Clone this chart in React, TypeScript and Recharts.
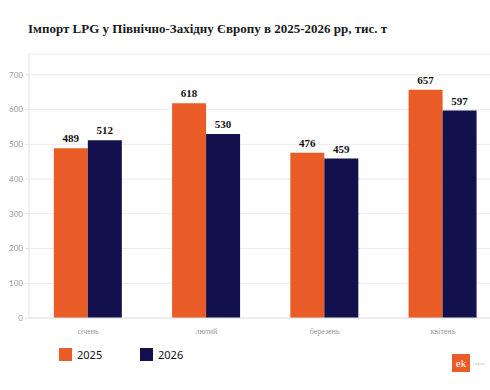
import { Bar, BarChart, CartesianGrid, LabelList, XAxis, YAxis } from 'recharts'

const months = ['січень', 'лютий', 'березень', 'квітень']
const imports2025 = [489, 618, 476, 657]
const imports2026 = [512, 530, 459, 597]
const yTicks = [0, 100, 200, 300, 400, 500, 600, 700]

const ORANGE = '#EA5C27'
const NAVY = '#13104E'

const data = months.map((m, i) => ({ month: m, y2025: imports2025[i], y2026: imports2026[i] }))

const valueLabelStyle = {
  fill: '#111',
  fontSize: 11,
  fontWeight: 700,
  fontFamily: '"Liberation Serif", serif',
}

export default function App() {
  return (
    <div
      style={{
        position: 'absolute',
        left: 0,
        top: 0,
        width: 490,
        height: 390,
        overflow: 'hidden',
        background: '#fff',
      }}
    >
      <div
        style={{
          position: 'absolute',
          left: 28,
          top: 21,
          fontFamily: '"Liberation Serif", serif',
          fontWeight: 700,
          fontSize: 13,
          color: '#1a1a1a',
          whiteSpace: 'nowrap',
        }}
      >
        Імпорт LPG у Північно-Західну Європу в 2025-2026 рр, тис. т
      </div>

      <div style={{ position: 'absolute', left: 0, top: 0 }}>
        <BarChart
          width={502}
          height={340}
          data={data}
          margin={{ top: 54, right: 0, bottom: 0, left: 0 }}
          barCategoryGap="21%"
          barGap={0}
        >
          <CartesianGrid vertical={false} stroke="#ececec" />
          <XAxis
            dataKey="month"
            tick={{ fill: '#999', fontSize: 8, fontFamily: '"Liberation Serif", serif' }}
            tickLine={false}
            axisLine={{ stroke: '#e3e3e3' }}
            height={22}
            tickMargin={4}
          />
          <YAxis
            domain={[0, 760]}
            ticks={yTicks}
            width={29}
            tick={{ fill: '#999', fontSize: 8, fontFamily: 'Lato, sans-serif' }}
            tickLine={{ stroke: '#e3e3e3' }}
            tickSize={4}
            axisLine={{ stroke: '#e3e3e3' }}
          />
          <Bar dataKey="y2025" fill={ORANGE} isAnimationActive={false}>
            <LabelList dataKey="y2025" position="top" offset={6} style={valueLabelStyle} />
          </Bar>
          <Bar dataKey="y2026" fill={NAVY} isAnimationActive={false}>
            <LabelList dataKey="y2026" position="top" offset={6} style={valueLabelStyle} />
          </Bar>
        </BarChart>
      </div>

      {[
        { label: '2025', color: ORANGE, left: 59 },
        { label: '2026', color: NAVY, left: 140 },
      ].map((l) => (
        <div
          key={l.label}
          style={{
            position: 'absolute',
            left: l.left,
            top: 347,
            display: 'flex',
            alignItems: 'center',
            fontFamily: '"Noto Sans", sans-serif',
            fontSize: 11,
            color: '#111',
          }}
        >
          <span style={{ width: 13, height: 13, background: l.color, display: 'inline-block', marginRight: 5 }} />
          {l.label}
        </div>
      ))}

      <div style={{ position: 'absolute', left: 452, top: 354, display: 'flex', alignItems: 'center' }}>
        <span
          style={{
            width: 18,
            height: 18,
            background: ORANGE,
            color: '#fff',
            fontFamily: '"Liberation Serif", serif',
            fontSize: 11,
            display: 'flex',
            alignItems: 'center',
            justifyContent: 'center',
          }}
        >
          ek
        </span>
        <span style={{ marginLeft: 3, fontFamily: '"Liberation Serif", serif', fontSize: 5, color: '#bbb' }}>enkor</span>
      </div>
    </div>
  )
}
